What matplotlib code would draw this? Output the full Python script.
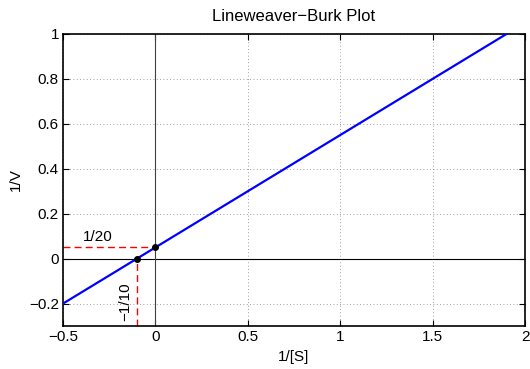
import numpy as np
import matplotlib
matplotlib.use("Agg")
import matplotlib.pyplot as plt

# Data: Lineweaver-Burk line 1/V = b + m * (1/[S])
intercept = 0.05          # 1/Vmax
slope = 0.5               # Km/Vmax
x_range = [-0.5, 2.0]
x_ticks = [-0.5, 0, 0.5, 1, 1.5, 2]
x_tick_labels = ['\u22120.5', '0', '0.5', '1', '1.5', '2']
y_ticks = [-0.2, 0, 0.2, 0.4, 0.6, 0.8, 1]
y_tick_labels = ['\u22120.2', '0', '0.2', '0.4', '0.6', '0.8', '1']
x_intercept = -intercept / slope

plt.rcParams['font.family'] = ['Liberation Sans', 'DejaVu Sans']
plt.rcParams['font.size'] = 11

fig = plt.figure(figsize=(5.3, 3.69), dpi=100)
ax = fig.add_axes([0.119, 0.1165, 0.8716, 0.7915])

xs = np.array(x_range)
ax.plot(xs, intercept + slope * xs, color='#0000ff', lw=1.6, zorder=3)

ax.axhline(0, color='black', lw=0.8, zorder=2)
ax.axvline(0, color='#404040', lw=0.8, zorder=2)

ax.plot([x_range[0], 0], [intercept, intercept], color='#ff0000', ls=(0, (5, 3)), lw=1.0, zorder=2)
ax.plot([x_intercept, x_intercept], [-0.3, 0], color='#ff0000', ls=(0, (5, 3)), lw=1.0, zorder=2)
ax.plot([0, x_intercept], [intercept, 0], 'o', color='black', ms=4, zorder=4)

ax.text(-0.31, intercept + 0.015, '1/20', ha='center', va='bottom', fontsize=11)
ax.text(-0.125, -0.19, '\u22121/10', rotation=90, ha='right', va='center', fontsize=11)

ax.set_xlim(-0.5, 2)
ax.set_ylim(-0.3, 1)
ax.set_xticks(x_ticks)
ax.set_xticklabels(x_tick_labels)
ax.set_yticks(y_ticks)
ax.set_yticklabels(y_tick_labels)
ax.tick_params(direction='in', length=4, width=0.8, top=True, right=True, pad=3)
ax.grid(True, ls=(0, (1, 3)), color='#808080', lw=0.6)
for s in ax.spines.values():
    s.set_linewidth(1.2)

ax.set_xlabel('1/[S]', labelpad=4)
ax.set_ylabel('1/V', labelpad=4)
ax.set_title('Lineweaver\u2212Burk Plot', fontsize=12, pad=9)

fig.savefig('out.png', dpi=100)
